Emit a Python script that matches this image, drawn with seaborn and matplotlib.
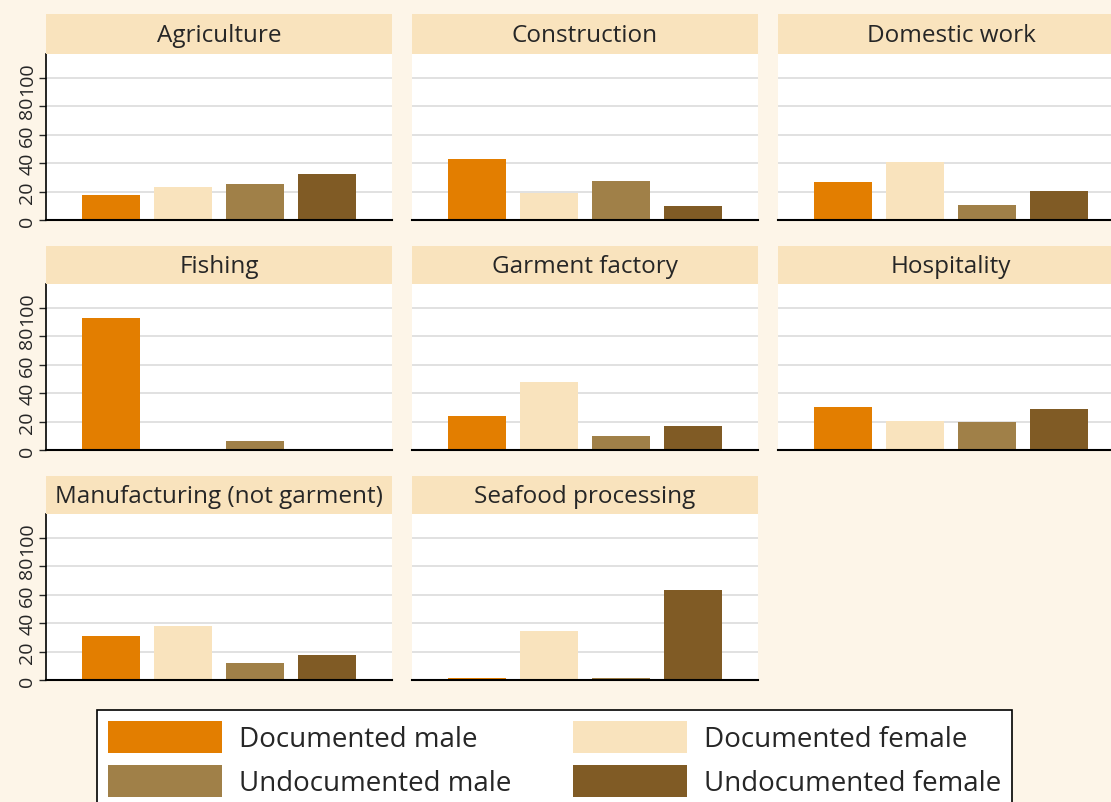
import matplotlib
matplotlib.use("Agg")
import matplotlib.pyplot as plt
from matplotlib.patches import Patch
import seaborn as sns
import pandas as pd

# Share of workers by sector and status (%)
sectors = ["Agriculture", "Construction", "Domestic work",
           "Fishing", "Garment factory", "Hospitality",
           "Manufacturing (not garment)", "Seafood processing"]
groups = ["Documented male", "Documented female",
          "Undocumented male", "Undocumented female"]
documented_male = [17.6, 43.0, 26.8, 93.0, 24.0, 30.3, 31.0, 1.6]
documented_female = [23.2, 19.3, 40.8, 0.0, 48.0, 20.5, 38.0, 34.6]
undocumented_male = [25.4, 27.4, 10.6, 6.4, 10.0, 19.8, 12.0, 1.4]
undocumented_female = [32.4, 9.8, 20.4, 0.0, 17.0, 29.0, 17.6, 63.5]
yticks = [0, 20, 40, 60, 80, 100]

colors = ["#E37E00", "#F9E3BD", "#A08048", "#805B25"]
bg = "#FDF5E8"
strip_color = "#F9E3BD"

rows = []
for i, s in enumerate(sectors):
    vals = [documented_male[i], documented_female[i],
            undocumented_male[i], undocumented_female[i]]
    for g, v in zip(groups, vals):
        rows.append({"sector": s, "group": g, "value": v})
df = pd.DataFrame(rows)

sns.set_style("white")
plt.rcParams["font.family"] = ["Open Sans", "DejaVu Sans"]

W, H = 1111, 803
fig = plt.figure(figsize=(W / 100, H / 100), dpi=100, facecolor=bg)

col_x = [46, 412, 778]
col_w = 346
row_top = [55, 285, 515]   # top of plot area (px)
plot_h = 166
strip_h = [40, 38, 38]

for i, sector in enumerate(sectors):
    r, c = divmod(i, 3)
    left = col_x[c] / W
    width = col_w / W
    bottom = 1 - (row_top[r] + plot_h) / H
    ax = fig.add_axes([left, bottom, width, plot_h / H])
    sub = df[df["sector"] == sector]
    sns.barplot(data=sub, x="group", y="value", hue="group", order=groups,
                hue_order=groups, palette=colors, width=0.8, dodge=False,
                legend=False, ax=ax, saturation=1, linewidth=0,
                edgecolor="none")
    ax.set_facecolor("white")
    ax.set_xlim(-0.9, 3.9)
    ax.set_ylim(0, 117)
    ax.set_yticks(yticks)
    ax.grid(axis="y", color="#DCDCDC", linewidth=1.2)
    ax.set_axisbelow(True)
    ax.set_xticks([])
    ax.set_xlabel("")
    ax.set_ylabel("")
    for side in ["top", "right"]:
        ax.spines[side].set_visible(False)
    ax.spines["bottom"].set_color("black")
    ax.spines["bottom"].set_linewidth(1.5)
    if c == 0:
        ax.spines["left"].set_color("black")
        ax.spines["left"].set_linewidth(1.2)
        ax.tick_params(axis="y", left=True, length=5, width=1, labelsize=14,
                       labelrotation=90, pad=2)
        for lab in ax.get_yticklabels():
            lab.set_va("center")
    else:
        ax.spines["left"].set_visible(False)
        ax.tick_params(axis="y", left=False, labelleft=False)

    # strip header
    sb = 1 - row_top[r] / H
    sax = fig.add_axes([left, sb, width, strip_h[r] / H])
    sax.set_facecolor(strip_color)
    sax.set_xticks([])
    sax.set_yticks([])
    for sp in sax.spines.values():
        sp.set_visible(False)
    sax.text(0.5, 0.48, sector, ha="center", va="center", fontsize=17.5,
             transform=sax.transAxes)

# legend is filled column by column, so order handles for row-major display
legend_order = [0, 2, 1, 3]
handles = [Patch(facecolor=colors[k], edgecolor="none", label=groups[k])
           for k in legend_order]
leg = fig.legend(handles=handles, ncol=2, loc="upper left",
                 bbox_to_anchor=(97 / W, 1 - 711 / H), fontsize=20,
                 frameon=True, fancybox=False, framealpha=1,
                 edgecolor="black", handlelength=4.1, handleheight=1.4,
                 handletextpad=0.62, columnspacing=2.2, borderpad=0.4,
                 labelspacing=0.42, borderaxespad=0)
leg.get_frame().set_linewidth(1.2)

fig.savefig("out.png", dpi=100, facecolor=bg)
